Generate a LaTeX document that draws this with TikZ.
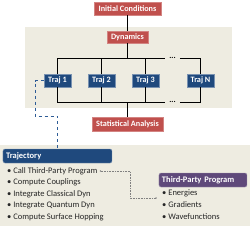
\documentclass[tikz,border=0pt]{standalone}
\usepackage{fontspec}
\setmainfont{Carlito}
\definecolor{panelbg}{HTML}{EEECE1}
\definecolor{stepred}{HTML}{C0504D}
\definecolor{trajblue}{HTML}{1F497D}
\definecolor{linkblue}{HTML}{2E5C96}
\definecolor{progpurple}{HTML}{5F497A}
\usetikzlibrary{arrows.meta}

\begin{document}
\begin{tikzpicture}[x=1pt,y=-1pt,
  font=\fontsize{8.5}{9}\selectfont,
  redbox/.style={fill=stepred,draw=stepred!70!white,text=white,font=\fontsize{8.2}{9}\selectfont\bfseries,inner sep=0pt,minimum height=13pt},
  trajbox/.style={fill=trajblue,draw=trajblue!60!white,text=white,font=\fontsize{8.2}{9}\selectfont\bfseries,inner sep=0pt,minimum width=27pt,minimum height=13pt},
  head/.style={draw=#1!60!white,fill=#1,rounded corners=2pt,text=white,font=\fontsize{8.5}{9}\selectfont\bfseries,inner sep=0pt,minimum height=14pt,text depth=0pt},
  item/.style={anchor=west,inner sep=0pt,text=black!85},
  wire/.style={black,line width=1pt},
  ar/.style={{Stealth[length=1.5pt,width=1.7pt]}-{Stealth[length=1.5pt,width=1.7pt]},black!50,densely dotted,line width=0.6pt}]
\useasboundingbox (0,0) rectangle (250,228);
% panels
\fill[panelbg] (25,27) rectangle (232,108);
\fill[panelbg] (0,145) rectangle (250,226);
% flow
\node[redbox,minimum width=67pt] (init) at (127.5,8.5) {Initial Conditions};
\node[redbox,minimum width=41pt,minimum height=12pt] (dyn) at (127.5,37) {Dynamics};
\node[trajbox] (t1) at (57.5,80.5) {Traj 1};
\node[trajbox] (t2) at (101.5,80.5) {Traj 2};
\node[trajbox] (t3) at (145.5,80.5) {Traj 3};
\node[trajbox] (tn) at (200.5,80.5) {Traj N};
\node[redbox,minimum width=71pt,minimum height=14pt] (stat) at (127.5,124) {Statistical Analysis};
\coordinate (top) at (127.5,58.5);
\coordinate (bot) at (127.5,102.5);
\node[inner sep=0pt,font=\fontsize{8}{8}\selectfont\bfseries] (dtop) at (172.5,58.3) {...};
\node[inner sep=0pt,font=\fontsize{8}{8}\selectfont\bfseries] (dbot) at (172.5,102.3) {...};
\draw[wire] (init) -- (dyn);
\draw[wire] (dyn) -- (top);
\draw[wire] (t1.north) |- (top) -| (t2.north);
\draw[wire] (top) -| (t3.north);
\draw[wire] (t3.north |- top) -- (165,58.5);
\draw[wire] (180,58.5) -| (tn.north);
\draw[wire] (t1.south) |- (bot) -| (t2.south);
\draw[wire] (bot) -| (t3.south);
\draw[wire] (t3.south |- bot) -- (165,102.5);
\draw[wire] (180,102.5) -| (tn.south);
\draw[wire] (bot) -- (stat);
% trajectory detail
\node[head=trajblue,minimum width=109pt,text width=103pt,align=left] (traj) at (57.5,156) {Trajectory};
\node[item] (i1) at (7,171) {\textbullet\ Call Third-Party Program};
\node[item] (i2) at (7,182.5) {\textbullet\ Compute Couplings};
\node[item] (i3) at (7,194) {\textbullet\ Integrate Classical Dyn};
\node[item] (i4) at (7,205.5) {\textbullet\ Integrate Quantum Dyn};
\node[item] (i5) at (7,217) {\textbullet\ Compute Surface Hopping};
\node[head=progpurple,minimum width=88pt,text width=82pt,align=left] (prog) at (203,180) {Third-Party Program};
\node[item] (p1) at (162,193) {\textbullet\ Energies};
\node[item] (p2) at (162,205) {\textbullet\ Gradients};
\node[item] (p3) at (162,217) {\textbullet\ Wavefunctions};
\coordinate (jog) at (35,116);
\coordinate (calltip) at (157,198);
\draw[linkblue,dashed,line width=0.8pt] (t1.west) -| (jog) -| (traj.north);
\draw[ar] ([xshift=2pt]i1.east) -| (130,198) -- (calltip);
\end{tikzpicture}
\end{document}
